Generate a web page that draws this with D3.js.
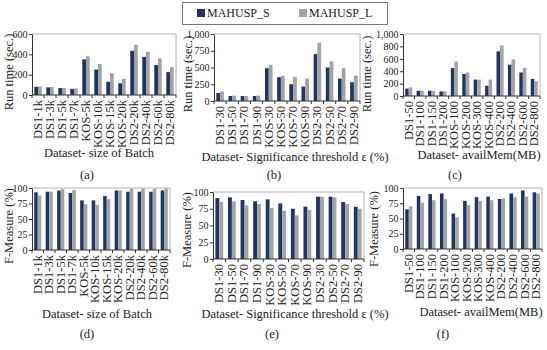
<!DOCTYPE html>
<html>
<head>
<meta charset="utf-8">
<script src="https://cdn.jsdelivr.net/npm/d3@7"></script>
<style>
  body { margin: 0; background: #fff; }
  svg text { font-family: "Liberation Serif", "DejaVu Serif", serif; fill: #222; }
</style>
</head>
<body>
<script>
const W = 547, H = 350;
const seriesNames = ['MAHUSP_S', 'MAHUSP_L'];
const colors = ['#1f3565', '#a3a3a3'];

// categories
const catBatch = ['DS1-1k', 'DS1-3k', 'DS1-5k', 'DS1-7k', 'KOS-5k', 'KOS-10k', 'KOS-15k', 'KOS-20k', 'DS2-20k', 'DS2-40k', 'DS2-60k', 'DS2-80k'];
const catThresh = ['DS1-30', 'DS1-50', 'DS1-70', 'DS1-90', 'KOS-30', 'KOS-50', 'KOS-70', 'KOS-90', 'DS2-30', 'DS2-50', 'DS2-70', 'DS2-90'];
const catMem = ['DS1-50', 'DS1-100', 'DS1-150', 'DS1-200', 'KOS-100', 'KOS-200', 'KOS-300', 'KOS-400', 'DS2-200', 'DS2-400', 'DS2-600', 'DS2-800'];

// run time (sec.)
const runBatchS = [80, 75, 68, 60, 350, 250, 130, 115, 435, 375, 295, 225];
const runBatchL = [85, 78, 68, 65, 380, 305, 215, 160, 495, 425, 360, 275];
const runThreshS = [120, 75, 75, 75, 490, 355, 250, 215, 700, 500, 335, 280];
const runThreshL = [140, 80, 75, 80, 540, 375, 360, 335, 870, 590, 490, 380];
const runMemS = [120, 85, 85, 73, 450, 355, 265, 165, 720, 505, 380, 275];
const runMemL = [140, 85, 80, 75, 555, 380, 265, 265, 815, 590, 455, 240];

// F-measure (%)
const fBatchS = [93, 94, 96, 92, 80, 80, 87, 96, 94, 94, 94, 96];
const fBatchL = [88, 94, 98, 97, 74, 73, 82, 96, 99, 99, 99, 99];
const fThreshS = [91, 92, 88, 86, 89, 83, 75, 78, 93, 93, 85, 78];
const fThreshL = [85, 86, 80, 82, 76, 72, 65, 73, 93, 92, 82, 75];
const fMemS = [65, 87, 90, 91, 58, 79, 85, 86, 82, 91, 96, 93];
const fMemL = [70, 76, 80, 82, 52, 72, 79, 80, 83, 85, 86, 91];

const yTicksRun600 = [0, 200, 400, 600];
const yTicksRun1000a = [0, 250, 500, 750, 1000];
const yTicksRun1000b = [0, 200, 400, 600, 800, 1000];
const yTicksF = [0, 25, 50, 75, 100];

const panels = [
  { cats: catBatch, s: runBatchS, l: runBatchL, ticks: yTicksRun600, x0: 32, x1: 176, y0: 34, y1: 95,
    yTitle: 'Run time (sec.)', yTitleX: 12.5, yTitleY: 72, xLabel: 'Dataset- size of Batch', xLabelX: 99, xLabelY: 157, cap: '(a)', capX: 87, capY: 179 },
  { cats: catThresh, s: runThreshS, l: runThreshL, ticks: yTicksRun1000a, x0: 214, x1: 360, y0: 34, y1: 101,
    yTitle: 'Run  time (sec.)', yTitleX: 192, yTitleY: 74, xLabel: 'Dataset- Significance threshold ε (%)', xLabelX: 295, xLabelY: 161, cap: '(b)', capX: 274, capY: 179 },
  { cats: catMem, s: runMemS, l: runMemL, ticks: yTicksRun1000b, x0: 403, x1: 540, y0: 34, y1: 96,
    yTitle: 'Run time (sec.)', yTitleX: 371, yTitleY: 74, xLabel: 'Dataset- availMem(MB)', xLabelX: 479, xLabelY: 159, cap: '(c)', capX: 455, capY: 179 },
  { cats: catBatch, s: fBatchS, l: fBatchL, ticks: yTicksF, x0: 32, x1: 170, y0: 188, y1: 250,
    yTitle: 'F-Measure (%)', yTitleX: 12.5, yTitleY: 226, xLabel: 'Dataset- size of Batch', xLabelX: 97, xLabelY: 318, cap: '(d)', capX: 87, capY: 338 },
  { cats: catThresh, s: fThreshS, l: fThreshL, ticks: yTicksF, x0: 213, x1: 364, y0: 192, y1: 259,
    yTitle: 'F-Measure (%)', yTitleX: 191, yTitleY: 230, xLabel: 'Dataset- Significance threshold ε (%)', xLabelX: 295, xLabelY: 318, cap: '(e)', capX: 272, capY: 338 },
  { cats: catMem, s: fMemS, l: fMemL, ticks: yTicksF, x0: 403, x1: 542, y0: 188, y1: 249,
    yTitle: 'F-Measure (%)', yTitleX: 378, yTitleY: 229, xLabel: 'Dataset- availMem(MB)', xLabelX: 481, xLabelY: 316, cap: '(f)', capX: 443, capY: 338 }
];

const svg = d3.select('body').append('svg').attr('width', W).attr('height', H);

// draw one bar panel
const drawPanel = p => {
  const g = svg.append('g');
  const x = d3.scaleBand().domain(p.cats).range([p.x0, p.x1]).paddingInner(0.38).paddingOuter(0.19);
  const xs = d3.scaleBand().domain(seriesNames).range([0, x.bandwidth()]);
  const y = d3.scaleLinear().domain([0, d3.max(p.ticks)]).range([p.y1, p.y0]);

  // plot frame (top/right)
  g.append('path')
    .attr('d', `M${p.x0},${p.y0}H${p.x1}V${p.y1}`)
    .attr('fill', 'none').attr('stroke', '#a0a0a0').attr('stroke-width', 0.8);

  const rows = p.cats.map((c, i) => ({ c, v: [p.s[i], p.l[i]] }));
  const grp = g.selectAll('g.cat').data(rows).enter().append('g')
    .attr('transform', d => `translate(${x(d.c)},0)`);
  grp.selectAll('rect').data(d => d.v.map((v, k) => ({ v, k }))).enter().append('rect')
    .attr('x', d => xs(seriesNames[d.k]))
    .attr('width', xs.bandwidth())
    .attr('y', d => y(d.v))
    .attr('height', d => y(0) - y(d.v))
    .attr('fill', d => colors[d.k]);

  // y axis
  const ya = g.append('g').attr('transform', `translate(${p.x0},0)`)
    .call(d3.axisLeft(y).tickValues(p.ticks).tickSize(3).tickSizeOuter(0).tickPadding(1.5));
  ya.select('.domain').attr('stroke', '#333');
  ya.selectAll('line').attr('stroke', '#333');
  ya.selectAll('text').attr('font-size', 10).attr('fill', '#222');

  // x axis with ticks between categories
  const step = x.step();
  const bounds = d3.range(p.cats.length + 1).map(i => p.x0 + i * step);
  g.append('line').attr('x1', p.x0).attr('x2', p.x1).attr('y1', p.y1).attr('y2', p.y1).attr('stroke', '#333');
  g.selectAll('line.tk').data(bounds).enter().append('line')
    .attr('x1', d => d).attr('x2', d => d).attr('y1', p.y1).attr('y2', p.y1 + 3).attr('stroke', '#333');
  g.selectAll('text.xt').data(p.cats).enter().append('text')
    .attr('transform', d => `translate(${x(d) + x.bandwidth() / 2 + 4},${p.y1 + 5}) rotate(-90)`)
    .attr('text-anchor', 'end').attr('font-size', 12.5).text(d => d);

  g.append('text')
    .attr('transform', `translate(${p.yTitleX},${p.yTitleY}) rotate(-90)`)
    .attr('text-anchor', 'middle').attr('font-size', 12.5).text(p.yTitle);
  g.append('text').attr('x', p.xLabelX).attr('y', p.xLabelY)
    .attr('text-anchor', 'middle').attr('font-size', 12.5).text(p.xLabel);
  g.append('text').attr('x', p.capX).attr('y', p.capY)
    .attr('text-anchor', 'middle').attr('font-size', 12.5).text(p.cap);
};

panels.forEach(drawPanel);

// legend
const lg = svg.append('g');
lg.append('rect').attr('x', 182.5).attr('y', 2.5).attr('width', 205).attr('height', 22)
  .attr('fill', '#fff').attr('stroke', '#777');
const items = lg.selectAll('g.li').data(seriesNames).enter().append('g')
  .attr('transform', (d, i) => `translate(${197 + i * 102},8)`);
items.append('rect').attr('width', 8).attr('height', 8).attr('y', 1).attr('fill', (d, i) => colors[i]);
items.append('text').attr('x', 10).attr('y', 9).attr('font-size', 12).text(d => d);
</script>
</body>
</html>
